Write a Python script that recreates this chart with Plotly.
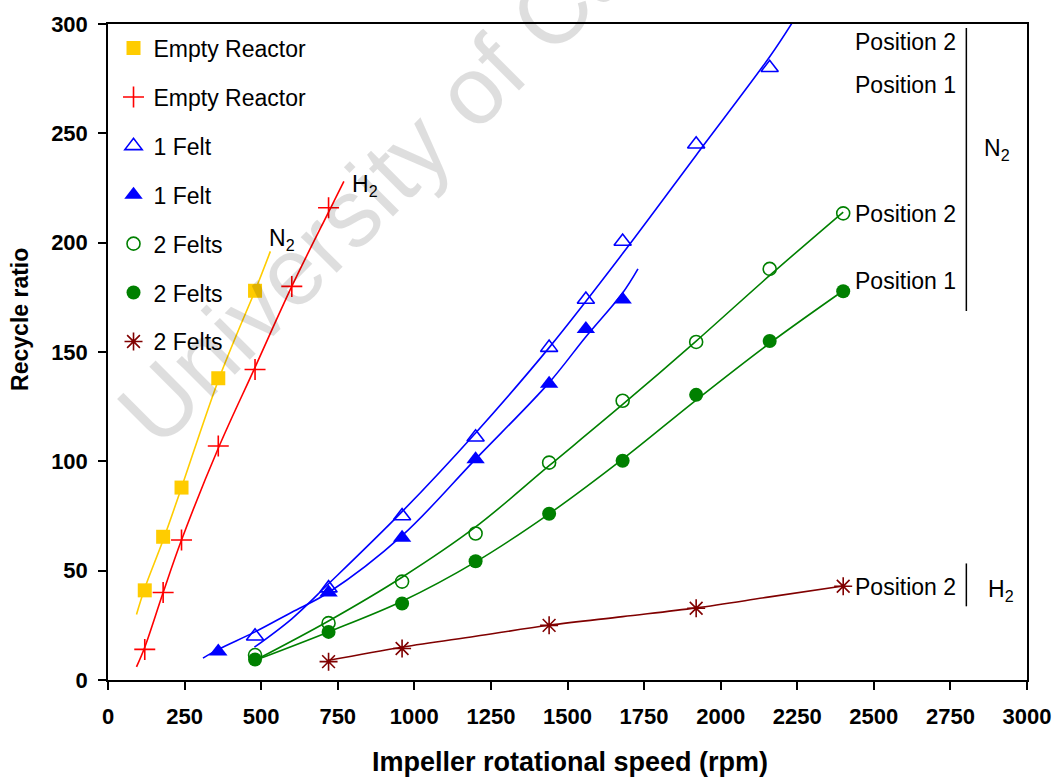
import plotly.graph_objects as go

# ---------------- data ----------------
# Empty reactor, N2 (yellow squares)
er_n2_x = [120, 180, 240, 360, 480]
er_n2_y = [41, 65.5, 88, 138, 178]
er_n2_fit_x = [93, 120, 180, 240, 300, 360, 420, 480, 530]
er_n2_fit_y = [30, 42, 64, 88, 113, 137, 158, 178, 196]

# Empty reactor, H2 (red plus)
er_h2_x = [120, 180, 240, 360, 480, 600, 720]
er_h2_y = [14, 40, 64, 107, 142, 180, 216]
er_h2_fit_x = [93, 120, 180, 240, 360, 480, 600, 720, 770]
er_h2_fit_y = [6, 15, 40, 64, 106, 143, 180, 214, 228]

# 1 Felt, N2, position 2 (open blue triangles)
f1_p2_x = [480, 720, 960, 1200, 1440, 1560, 1680, 1920, 2160]
f1_p2_y = [20, 42, 75, 111, 152, 174, 200.5, 245, 280]
f1_p2_fit_x = [478, 600, 720, 960, 1200, 1440, 1680, 1920, 2160, 2240]
f1_p2_fit_y = [15, 28, 44, 77, 113, 152, 195, 240, 285, 302]

# 1 Felt, N2, position 1 (filled blue triangles)
f1_p1_x = [360, 720, 960, 1200, 1440, 1560, 1680]
f1_p1_y = [13, 40, 65, 101, 135.5, 160.5, 174]
f1_p1_fit_x = [310, 360, 480, 600, 720, 960, 1200, 1440, 1560, 1680, 1730]
f1_p1_fit_y = [10, 14, 22, 31, 40, 66, 101, 136, 157, 177, 188]

# 2 Felts, N2, position 2 (open green circles)
f2_p2_x = [480, 720, 960, 1200, 1440, 1680, 1920, 2160, 2400]
f2_p2_y = [11.4, 26, 45, 67, 99.4, 127.7, 154.6, 188, 213.4]
f2_p2_fit_x = [480, 720, 960, 1200, 1440, 1680, 1920, 2160, 2400]
f2_p2_fit_y = [9, 27, 47, 70, 98, 126, 155, 185, 214]

# 2 Felts, N2, position 1 (filled green circles)
f2_p1_x = [480, 720, 960, 1200, 1440, 1680, 1920, 2160, 2400]
f2_p1_y = [9.4, 22, 35, 54.3, 76, 100.3, 130.4, 155, 177.8]
f2_p1_fit_x = [480, 720, 960, 1200, 1440, 1680, 1920, 2160, 2400]
f2_p1_fit_y = [9, 22, 36, 54, 76, 101, 128, 154, 178]

# 2 Felts, H2, position 2 (brown stars)
f2_h2_x = [720, 960, 1440, 1920, 2400]
f2_h2_y = [8.4, 14.4, 25, 32.8, 42.9]
f2_h2_fit_x = [720, 960, 1200, 1440, 1680, 1920, 2160, 2400]
f2_h2_fit_y = [9, 15, 20, 25, 29, 33, 38, 43]

x_ticks = [0, 250, 500, 750, 1000, 1250, 1500, 1750, 2000, 2250, 2500, 2750, 3000]
y_ticks = [0, 50, 100, 150, 200, 250, 300]

# ---------------- styles ----------------
YEL = "#FFCC00"
RED = "#FF0000"
BLU = "#0000FF"
GRN = "#008000"
BRN = "#800000"
FONT = "Arial, Liberation Sans, Helvetica, sans-serif"

fig = go.Figure()

# fitted lines (no legend)
fits = [
    (er_n2_fit_x, er_n2_fit_y, YEL),
    (er_h2_fit_x, er_h2_fit_y, RED),
    (f1_p2_fit_x, f1_p2_fit_y, BLU),
    (f1_p1_fit_x, f1_p1_fit_y, BLU),
    (f2_p2_fit_x, f2_p2_fit_y, GRN),
    (f2_p1_fit_x, f2_p1_fit_y, GRN),
    (f2_h2_fit_x, f2_h2_fit_y, BRN),
]
for fx, fy, c in fits:
    fig.add_trace(go.Scatter(x=fx, y=fy, mode="lines", line=dict(color=c, width=1.6, shape="spline"),
                             showlegend=False, hoverinfo="skip"))

# data markers (legend)
series = [
    ("Empty Reactor", er_n2_x, er_n2_y, dict(symbol="square", size=14, color=YEL)),
    ("Empty Reactor", er_h2_x, er_h2_y, dict(symbol="cross-thin-open", size=15, color=RED, line=dict(color=RED, width=1.6))),
    ("1 Felt", f1_p2_x, f1_p2_y, dict(symbol="triangle-up-open", size=15, color=BLU, line=dict(color=BLU, width=1.6))),
    ("1 Felt", f1_p1_x, f1_p1_y, dict(symbol="triangle-up", size=16, color=BLU)),
    ("2 Felts", f2_p2_x, f2_p2_y, dict(symbol="circle-open", size=13, color=GRN, line=dict(color=GRN, width=1.6))),
    ("2 Felts", f2_p1_x, f2_p1_y, dict(symbol="circle", size=14, color=GRN)),
    ("2 Felts", f2_h2_x, f2_h2_y, dict(symbol="asterisk-open", size=15, color=BRN, line=dict(color=BRN, width=1.6))),
]
for i, (name, sx, sy, mk) in enumerate(series):
    fig.add_trace(go.Scatter(x=sx, y=sy, mode="markers", name=name, marker=mk,
                             legendgroup=f"g{i}", cliponaxis=False))

axis_common = dict(
    showline=True, linecolor="black", linewidth=1.5, mirror=True,
    ticks="outside", ticklen=8, tickwidth=1.5, tickcolor="black",
    showgrid=False, zeroline=False,
    tickfont=dict(family=FONT, size=22, color="black", weight="bold"),
)

fig.update_xaxes(range=[0, 3000], tickvals=x_ticks, ticktext=[str(v) for v in x_ticks],
                 ticklabelstandoff=8, **axis_common)
fig.update_yaxes(range=[0, 300], tickvals=y_ticks, ticktext=[str(v) for v in y_ticks],
                 ticklabelstandoff=6, **axis_common)

ann = []
# axis titles
ann.append(dict(text="<b>Impeller rotational speed (rpm)</b>", xref="paper", yref="paper",
                x=0.503, y=-0.125, xanchor="center", yanchor="middle", showarrow=False,
                font=dict(family=FONT, size=27, color="black")))
ann.append(dict(text="<b>Recycle ratio</b>", xref="paper", yref="paper",
                x=-0.095, y=0.55, xanchor="center", yanchor="middle", textangle=-90, showarrow=False,
                font=dict(family=FONT, size=23, color="black")))
# watermark
ann.append(dict(text="University of Canterbury", xref="paper", yref="paper",
                x=0.425, y=0.94, xanchor="center", yanchor="middle", textangle=-45, showarrow=False,
                font=dict(family=FONT, size=96, color="rgba(0,0,0,0.13)")))
# curve labels
lab_font = dict(family=FONT, size=23, color="black")
ann.append(dict(text="N<sub>2</sub>", x=567, y=201.5, showarrow=False, font=lab_font))
ann.append(dict(text="H<sub>2</sub>", x=838, y=226, showarrow=False, font=lab_font))
for txt, yy in [("Position 2", 291.8), ("Position 1", 272.2), ("Position 2", 212.9),
                ("Position 1", 182.4), ("Position 2", 42.4)]:
    ann.append(dict(text=txt, x=2432, y=yy, xanchor="left", showarrow=False, font=lab_font))
ann.append(dict(text="N<sub>2</sub>", x=2903, y=242.6, showarrow=False, font=lab_font))
ann.append(dict(text="H<sub>2</sub>", x=2915, y=41, showarrow=False, font=lab_font))

shapes = [
    dict(type="line", x0=2802, x1=2802, y0=298.2, y1=168.7, line=dict(color="black", width=1.5)),
    dict(type="line", x0=2802, x1=2802, y0=53.3, y1=33.7, line=dict(color="black", width=1.5)),
]

fig.update_layout(
    width=1063, height=779,
    margin=dict(l=108, r=29, t=22, b=99),
    paper_bgcolor="white", plot_bgcolor="white",
    font=dict(family=FONT, color="black"),
    annotations=ann, shapes=shapes,
    legend=dict(x=0.006, y=0.996, xanchor="left", yanchor="top", bgcolor="rgba(0,0,0,0)",
                font=dict(family=FONT, size=23, color="black"), tracegroupgap=16),
)

fig.write_html("out.html")
